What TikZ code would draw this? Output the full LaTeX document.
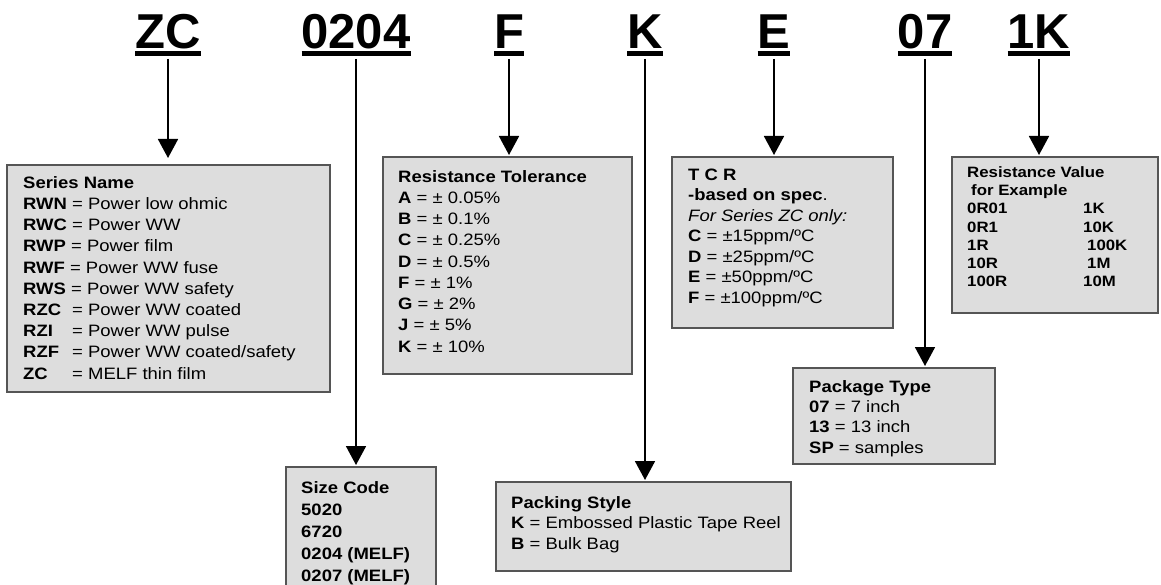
\documentclass[tikz,border=0pt]{standalone}
\usepackage{fontspec}
\setmainfont{Liberation Sans}
\newfontfamily\boxfont{Liberation Sans}[FakeStretch=1.12]
\usepackage{xcolor}
\usetikzlibrary{arrows.meta}
\definecolor{boxgray}{RGB}{221,221,221}
\definecolor{edgegray}{RGB}{85,85,85}
\newcommand{\codeul}[1]{\setbox0\hbox{#1}\rlap{\rule[-7pt]{\wd0}{5pt}}\box0}
\newcommand{\eqw}[2]{\makebox[#1][l]{\textbf{#2}}}
\newcommand{\topline}{\rule{0pt}{13pt}}

\begin{document}
\begin{tikzpicture}[x=1pt,y=-1pt,
  code/.style={font=\fontsize{49}{55}\selectfont\bfseries,anchor=base,inner xsep=0pt,inner ysep=3pt,outer sep=0pt},
  box/.style 2 args={draw=edgegray,line width=1.2pt,fill=boxgray,anchor=north west,inner sep=0pt,outer sep=0pt,minimum width=#1,minimum height=#2},
  txt/.style={anchor=north west,align=left,inner sep=0pt,font=\boxfont\fontsize{16.5}{#1}\selectfont},
  txt/.default=21.2,
  conn/.style={-{Triangle[width=20pt,length=19pt]},line width=1.8pt,shorten >=2pt}]
  \useasboundingbox (0,0) rectangle (1161,585);
  \node[code] (zc) at (168,49) {\codeul{ZC}};
  \node[code] (size-code) at (356,49) {\codeul{0204}};
  \node[code] (tol-code) at (509,49) {\codeul{F}};
  \node[code] (pack-code) at (645,49) {\codeul{K}};
  \node[code] (tcr-code) at (774,49) {\codeul{E}};
  \node[code] (pkg-code) at (925,49) {\codeul{07}};
  \node[code] (val-code) at (1039,49) {\codeul{1K}};
  \node[box={323}{227}] (series) at (7,165) {};
  \node[box={249}{217}] (tol) at (383,157) {};
  \node[box={221}{171}] (tcr) at (672,157) {};
  \node[box={206}{156}] (rval) at (952,157) {};
  \node[box={202}{96}] (pkg) at (793,368) {};
  \node[box={150}{125}] (size) at (286,467) {};
  \node[box={295}{89}] (packing) at (496,482) {};
  \node[txt] (series-txt) at (23,175) {\topline\textbf{Series Name}\\
    \textbf{RWN} = Power low ohmic\\
    \textbf{RWC} = Power WW\\
    \textbf{RWP} = Power film\\
    \textbf{RWF} = Power WW fuse\\
    \textbf{RWS} = Power WW safety\\
    \eqw{49pt}{RZC}= Power WW coated\\
    \eqw{49pt}{RZI}= Power WW pulse\\
    \eqw{49pt}{RZF}= Power WW coated/safety\\
    \eqw{49pt}{ZC}= MELF thin film};
  \node[txt=21.25] (tol-txt) at (398,169) {\topline\textbf{Resistance Tolerance}\\
    \textbf{A} = ± 0.05\%\\
    \textbf{B} = ± 0.1\%\\
    \textbf{C} = ± 0.25\%\\
    \textbf{D} = ± 0.5\%\\
    \textbf{F} = ± 1\%\\
    \textbf{G} = ± 2\%\\
    \textbf{J} = ± 5\%\\
    \textbf{K} = ± 10\%};
  \node[txt=20.5] (tcr-txt) at (688,167) {\topline\textbf{T C R}\\
    \textbf{-based on spec}.\\
    \textit{For Series ZC only:}\\
    \textbf{C} = ±15ppm/ºC\\
    \textbf{D} = ±25ppm/ºC\\
    \textbf{E} = ±50ppm/ºC\\
    \textbf{F} = ±100ppm/ºC};
  \node[txt=18.3,font=\boxfont\fontsize{15}{18.3}\selectfont\bfseries] (rval-txt) at (967,164) {\topline Resistance Value\\
    \hspace*{4pt}for Example\\
    \makebox[116pt][l]{0R01}1K\\
    \makebox[116pt][l]{0R1}10K\\
    \makebox[120pt][l]{1R}100K\\
    \makebox[120pt][l]{10R}1M\\
    \makebox[116pt][l]{100R}10M};
  \node[txt=20.3] (pkg-txt) at (809,379) {\topline\textbf{Package Type}\\
    \textbf{07} = 7 inch\\
    \textbf{13} = 13 inch\\
    \textbf{SP} = samples};
  \node[txt=22,font=\boxfont\fontsize{16.5}{22}\selectfont\bfseries] (size-txt) at (301,480) {\topline Size Code\\
    5020\\
    6720\\
    0204 (MELF)\\
    0207 (MELF)};
  \node[txt=20.5] (packing-txt) at (511,495) {\topline\textbf{Packing Style}\\
    \textbf{K} = Embossed Plastic Tape Reel\\
    \textbf{B} = Bulk Bag};
  \draw[conn,shorten >=7pt] (zc.south) -- (zc.south |- series.north);
  \draw[conn] (size-code.south) -- (size-code.south |- size.north);
  \draw[conn] (tol-code.south) -- (tol-code.south |- tol.north);
  \draw[conn] (pack-code.south) -- (pack-code.south |- packing.north);
  \draw[conn] (tcr-code.south) -- (tcr-code.south |- tcr.north);
  \draw[conn] (pkg-code.south) -- (pkg-code.south |- pkg.north);
  \draw[conn] (val-code.south) -- (val-code.south |- rval.north);
\end{tikzpicture}
\end{document}
